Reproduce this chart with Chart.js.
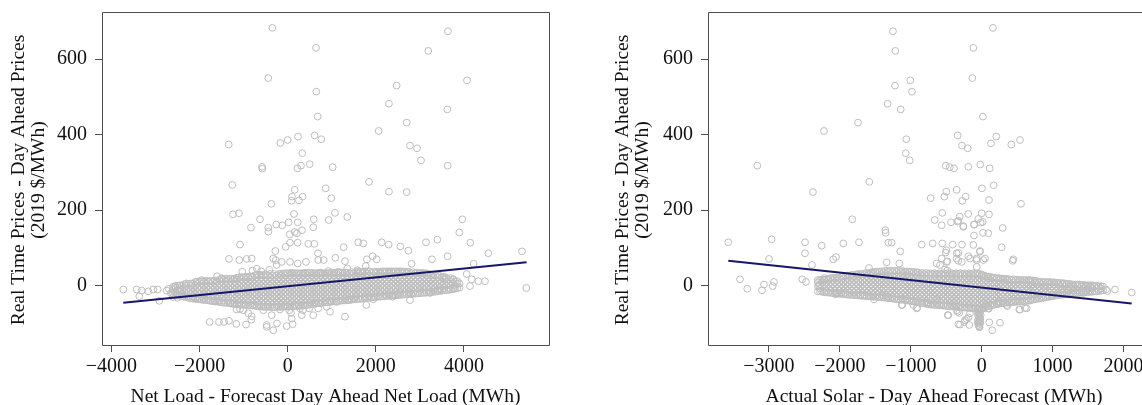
<!DOCTYPE html>
<html><head><meta charset="utf-8">
<script src="https://cdn.jsdelivr.net/npm/chart.js@4"></script>
<style>
html,body{margin:0;padding:0;background:#fff;overflow:hidden;width:1142px;height:405px;position:relative;}
#w1{position:absolute;left:0;top:0;width:560px;height:405px;}
#w2{position:absolute;left:560px;top:0;width:611px;height:405px;}
</style></head><body>
<div id="w1"><canvas id="c1"></canvas></div>
<div id="w2"><canvas id="c2"></canvas></div>
<script>
// ---------- DATA ----------
const yTicks = [0, 200, 400, 600];
const leftXTicks = [-4000, -2000, 0, 2000, 4000];
const rightXTicks = [-3000, -2000, -1000, 0, 1000, 2000];

const leftTitleX = "Net Load - Forecast Day Ahead Net Load (MWh)";
const rightTitleX = "Actual Solar - Day Ahead Forecast (MWh)";
const titleY = ["Real Time Prices - Day Ahead Prices", "(2019 $/MWh)"];

// Left panel: scattered points [x = net load error MWh, y = price spread $/MWh]
const leftScatter = [
[-349,683],[3637,674],[642,630],[3190,622],[-440,550],[4068,544],[649,514],[2473,530],[2298,482],[3622,467],
[681,448],[2700,432],[2064,410],[-1339,374],[-167,378],[0,386],[234,395],[612,398],[763,388],[2775,371],
[2934,364],[332,351],[3025,332],[-583,315],[-576,310],[219,311],[302,318],[499,322],[1021,314],[3630,318],
[-1257,267],[1845,275],[2298,249],[2700,248],[159,254],[98,236],[91,225],[256,226],[340,236],[862,258],
[990,232],[-372,217],[-1241,189],[-1105,192],[-628,176],[143,190],[590,176],[930,174],[1073,193],[1352,182],
[3962,176],[-833,154],[-440,154],[-259,162],[-123,160],[23,168],[227,168],[581,155],[324,147],
[-440,143],[159,142],[45,136],[211,139],[3894,141],[-1082,109],[-281,92],[52,114],[227,114],[468,111],
[604,111],[688,86],[-45,103],[1271,102],[1602,115],[1716,112],[2133,115],[2292,109],[2555,104],[2737,93],
[3138,115],[3395,122],[4144,114],[4552,86],[5316,91],[3630,78],[3274,70],[4220,58],[-1332,71],[-1098,68],
[-930,71],[-817,72],[-327,72],[-272,68],[-136,63],[52,63],[227,59],[415,63],[694,68],[817,68],
[1080,74],[1300,65],[1799,70],[1929,78],[2019,70],[2813,58],[-250,55],[-417,42],[-1030,37],[-1218,17],[-1951,15],
[91,34],[393,34],[733,35],[921,39],[1148,37],[1352,46],[1579,41],[1770,52],
[-1600,25],[-1500,20],[-800,40],[-700,45],[-600,38],
[-3730,-10],[-3426,-10],[-3313,-13],[-3162,-15],[-3050,-10],[-2950,-10],[-2746,-13],[-2444,-10],[-3367,-28],[-2913,-40],
[-2700,-8],[-2650,-20],[-2600,-30],[-2550,-2],[-2500,-32],
[5414,-6],[4477,12],[4325,12],[4175,17],[4061,31],[3758,17],[3569,19],[3758,-7],[4137,-1],[3456,-10],[3229,-19],
[-1770,-96],[-1559,-96],[-1445,-96],[-1332,-93],[-1166,-101],[-946,-103],[-826,-90],[-817,-81],
[-476,-104],[-476,-109],[-327,-118],[-243,-100],[-23,-107],[113,-102],[91,-87],[318,-78],[75,-72],[347,-65],
[581,-78],[960,-69],[1300,-82],[1784,-51],[1942,-36],[2382,-29],[2775,-38],
[-1082,-62],[-1007,-65],[-894,-73],[-1157,-63],[-553,-65],[-363,-78],[-175,-63],[36,-65],[279,-60],[490,-60],
[694,-60],[885,-56],[1112,-43],[1375,-38]
];
// Left panel: dense band near zero, column by column [x, [y values]]
const leftBand = [
[-2600,[-22,-11,-3]],[-2550,[-24,-17,-6,-1]],[-2500,[-26,-22,-11,0]],[-2450,[-27,-17,-6,1]],
[-2400,[-28,-22,-11,0]],[-2350,[-29,-17,-6,4]],[-2300,[-30,-22,-11,0,6]],[-2250,[-32,-28,-17,-6,5]],
[-2200,[-33,-22,-11,0,6]],[-2150,[-34,-28,-17,-6,5]],[-2100,[-35,-33,-22,-11,0,10]],[-2050,[-35,-28,-17,-6,5,11]],
[-2000,[-36,-33,-22,-11,0,11]],[-1950,[-37,-28,-17,-6,5,12]],[-1900,[-38,-33,-22,-11,0,11]],[-1850,[-38,-28,-17,-6,5,13]],
[-1800,[-39,-33,-22,-11,0,11]],[-1750,[-40,-28,-17,-6,5,13]],[-1700,[-41,-33,-22,-11,0,11]],[-1650,[-42,-39,-28,-17,-6,5,14]],
[-1600,[-42,-33,-22,-11,0,11]],[-1550,[-43,-39,-28,-17,-6,5,16]],[-1500,[-44,-33,-22,-11,0,11,18]],[-1450,[-45,-39,-28,-17,-6,5,16]],
[-1400,[-45,-33,-22,-11,0,11,19]],[-1350,[-46,-39,-28,-17,-6,5,16]],[-1300,[-47,-44,-33,-22,-11,0,11,19]],[-1250,[-48,-39,-28,-17,-6,5,16]],
[-1200,[-48,-44,-33,-22,-11,0,11,19]],[-1150,[-49,-39,-28,-17,-6,5,16,21]],[-1100,[-50,-44,-33,-22,-11,0,11,22]],[-1050,[-50,-39,-28,-17,-6,5,16,23]],
[-1000,[-50,-44,-33,-22,-11,0,11,22]],[-950,[-51,-39,-28,-17,-6,5,16,24]],[-900,[-51,-44,-33,-22,-11,0,11,22]],[-850,[-52,-39,-28,-17,-6,5,16,25]],
[-800,[-52,-44,-33,-22,-11,0,11,22]],[-750,[-53,-50,-39,-28,-17,-6,5,16,27]],[-700,[-54,-44,-33,-22,-11,0,11,22,29]],[-650,[-55,-50,-39,-28,-17,-6,5,16,27]],
[-600,[-55,-44,-33,-22,-11,0,11,22,29]],[-550,[-56,-50,-39,-28,-17,-6,5,16,27]],[-500,[-56,-44,-33,-22,-11,0,11,22,30]],[-450,[-56,-50,-39,-28,-17,-6,5,16,27]],
[-400,[-56,-44,-33,-22,-11,0,11,22,31]],[-350,[-57,-50,-39,-28,-17,-6,5,16,27]],[-300,[-57,-44,-33,-22,-11,0,11,22,31]],[-250,[-56,-50,-39,-28,-17,-6,5,16,27]],
[-200,[-56,-44,-33,-22,-11,0,11,22,31]],[-150,[-56,-50,-39,-28,-17,-6,5,16,27,32]],[-100,[-56,-44,-33,-22,-11,0,11,22,32]],[-50,[-55,-50,-39,-28,-17,-6,5,16,27,33]],
[0,[-55,-44,-33,-22,-11,0,11,22,33]],[50,[-55,-50,-39,-28,-17,-6,5,16,27,33]],[100,[-55,-44,-33,-22,-11,0,11,22,33]],[150,[-54,-50,-39,-28,-17,-6,5,16,27,33]],
[200,[-54,-44,-33,-22,-11,0,11,22,33]],[250,[-53,-50,-39,-28,-17,-6,5,16,27,33]],[300,[-53,-44,-33,-22,-11,0,11,22,33]],[350,[-52,-39,-28,-17,-6,5,16,27,33]],
[400,[-52,-44,-33,-22,-11,0,11,22,33]],[450,[-51,-39,-28,-17,-6,5,16,27,34]],[500,[-50,-44,-33,-22,-11,0,11,22,34]],[550,[-49,-39,-28,-17,-6,5,16,27,34]],
[600,[-48,-44,-33,-22,-11,0,11,22,33]],[650,[-47,-39,-28,-17,-6,5,16,27,33]],[700,[-47,-33,-22,-11,0,11,22,33]],[750,[-46,-39,-28,-17,-6,5,16,27,33]],
[800,[-45,-33,-22,-11,0,11,22,33]],[850,[-44,-39,-28,-17,-6,5,16,27,33]],[900,[-44,-33,-22,-11,0,11,22,33]],[950,[-43,-39,-28,-17,-6,5,16,27,34]],
[1000,[-42,-33,-22,-11,0,11,22,34]],[1050,[-41,-28,-17,-6,5,16,27,34]],[1100,[-41,-33,-22,-11,0,11,22,34]],[1150,[-40,-28,-17,-6,5,16,27,35]],
[1200,[-40,-33,-22,-11,0,11,22,35]],[1250,[-39,-28,-17,-6,5,16,27,35]],[1300,[-39,-33,-22,-11,0,11,22,35]],[1350,[-38,-28,-17,-6,5,16,27,35]],
[1400,[-38,-33,-22,-11,0,11,22,33]],[1450,[-37,-28,-17,-6,5,16,27,36]],[1500,[-36,-33,-22,-11,0,11,22,33]],[1550,[-36,-28,-17,-6,5,16,27,36]],
[1600,[-35,-22,-11,0,11,22,33,37]],[1650,[-35,-28,-17,-6,5,16,27,37]],[1700,[-34,-22,-11,0,11,22,33,37]],[1750,[-33,-28,-17,-6,5,16,27,38]],
[1800,[-32,-22,-11,0,11,22,33,38]],[1850,[-32,-28,-17,-6,5,16,27,38]],[1900,[-31,-22,-11,0,11,22,33]],[1950,[-30,-17,-6,5,16,27,37]],
[2000,[-30,-22,-11,0,11,22,33,37]],[2050,[-29,-17,-6,5,16,27,37]],[2100,[-29,-22,-11,0,11,22,33,37]],[2150,[-28,-17,-6,5,16,27,38]],
[2200,[-28,-22,-11,0,11,22,33,38]],[2250,[-27,-17,-6,5,16,27,38]],[2300,[-27,-22,-11,0,11,22,33,38]],[2350,[-26,-17,-6,5,16,27,38]],
[2400,[-26,-22,-11,0,11,22,33,38]],[2450,[-25,-17,-6,5,16,27,38]],[2500,[-25,-22,-11,0,11,22,33,38]],[2550,[-24,-17,-6,5,16,27,38]],
[2600,[-24,-11,0,11,22,33,38]],[2650,[-23,-17,-6,5,16,27,37]],[2700,[-23,-11,0,11,22,33,37]],[2750,[-22,-17,-6,5,16,27,37]],
[2800,[-22,-11,0,11,22,33]],[2850,[-21,-17,-6,5,16,27,36]],[2900,[-21,-11,0,11,22,33]],[2950,[-20,-6,5,16,27,35]],
[3000,[-20,-11,0,11,22,33]],[3050,[-19,-6,5,16,27,34]],[3100,[-19,-11,0,11,22,33]],[3150,[-18,-6,5,16,27,33]],
[3200,[-18,-11,0,11,22,31]],[3250,[-17,-6,5,16,27]],[3300,[-16,-11,0,11,22,28]],[3350,[-16,-6,5,16,27]],
[3400,[-15,-11,0,11,22,28]],[3450,[-14,-6,5,16,26]],[3500,[-13,0,11,22]],[3550,[-12,-6,5,16,24]],
[3600,[-12,0,11,21]],[3650,[-11,-6,5,16]],[3700,[-10,0,11,20]],[3750,[-9,5,16]],
[3800,[-8,0,11]],[3850,[-6,5,12]],[3900,[-5,6]]
];
const leftFitX = [-3730, 5420];
const leftFitY = [-45, 62];

// Right panel: scattered points [x = solar forecast error MWh, y = price spread $/MWh]
const rightScatter = [
[-1251,674],[159,683],[-1218,622],[-118,630],[-1007,544],[-1222,530],[-983,514],[-132,550],[-1326,482],[-1142,467],
[18,448],[-1744,432],[-2224,410],[-1063,388],[-339,398],[-278,371],[-197,364],[131,377],[206,395],[418,374],
[540,386],[-1072,351],[-1015,332],[-3164,318],[-508,318],[-451,314],[-391,311],[-189,315],[-20,321],[113,311],
[-1585,275],[-2379,248],[-499,249],[-527,236],[-353,254],[-226,236],[-273,225],[-719,232],[4,258],[169,266],
[103,227],[554,217],[-1825,176],[-556,193],[-663,174],[-564,160],[-433,168],[-330,172],[-310,183],[-189,190],
[-259,156],[-109,162],[-48,177],[14,169],[0,192],[103,189],[296,153],[-1359,147],
[-3573,115],[-2961,123],[-2999,71],[-3408,17],[-3305,-8],[-3098,-12],[-3070,3],[-2947,-1],[-2929,10],
[-2491,115],[-2491,86],[-2256,106],[-2093,70],[-2054,76],[-1951,112],[-1730,115],[-1354,140],[-1317,114],[-1269,114],
[-1148,91],[-846,109],[-691,112],[-2393,55],[-2530,17],[-2478,10],[-2294,0],[-2219,20],[-2059,-23],[-2045,-20],
[-1589,47],[-1340,62],[-1162,59],
[-344,170],[-259,158],[-104,162],[-14,167],[18,140],[93,139],[-109,133],[282,102],[446,70],[437,66],
[-556,112],[-409,109],[-278,109],[-118,108],[-330,87],[-353,72],[-165,72],[-24,90],[-70,72],[23,68],
[-330,66],[-499,94],[-508,88],[-485,65],[-588,55],[-517,43],[-485,40],
[-635,59],[-564,72],[-494,63],[-353,86],[-282,63],[-189,78],[-70,68],[-24,92],[47,72],[-70,50],
[2115,-18],[1880,-10],[1753,-10],[1771,-14],[1541,-6],[1433,-19],[1376,-13],[1269,-1],[1221,-10],[1104,-1],
[1128,-10],[893,-1],[671,15],[728,-5],
[-1119,-51],[-964,-51],[-908,-58],[-767,-45],[-479,-78],[-330,-102],[-245,-96],[-212,-88],[-175,-104],[-56,-96],
[-34,-109],[149,-118],[107,-97],[258,-98],[99,-61],[234,-47],[361,-54],[530,-63],[611,-59],[-316,-72],[-353,-65],
[-1655,-25],[-1519,-36],[-1387,-25],
[-306,-103],[-235,-91],[-188,-84],[-165,-73],[-338,-69],[-471,-78],
[23,-47],[93,-60],[234,-43],[353,-51],[540,-63],[634,-60],
[-1128,-51],[-917,-60],[-776,-45],[-635,-38],
[-40,-62],[-25,-66],[-50,-70],[-30,-74],[-15,-78],[-45,-80],[-35,-84],[-20,-88],[-50,-90],[-30,-94],
[-40,-98],[-25,-101],[-45,-104],[-35,-107],[-30,-110],[-20,-96],[-55,-76]
];
// Right panel: dense band near zero, column by column [x, [y values]]
const rightBand = [
[-2310,[-15,-2,9,15]],[-2280,[-15,-7,4,15]],[-2250,[-16,-2,9,16]],[-2220,[-17,-7,4,15]],
[-2190,[-18,-13,-2,9,17]],[-2160,[-18,-7,4,15,19]],[-2130,[-19,-13,-2,9,20]],[-2100,[-19,-7,4,15,21]],
[-2070,[-20,-13,-2,9,20]],[-2040,[-20,-18,-7,4,15,22]],[-2010,[-21,-13,-2,9,20]],[-1980,[-22,-18,-7,4,15,24]],
[-1950,[-22,-13,-2,9,20,25]],[-1920,[-23,-18,-7,4,15,26]],[-1890,[-24,-13,-2,9,20,27]],[-1860,[-24,-18,-7,4,15,26]],
[-1830,[-24,-13,-2,9,20,29]],[-1800,[-25,-18,-7,4,15,26]],[-1770,[-25,-13,-2,9,20,30]],[-1740,[-26,-18,-7,4,15,26,31]],
[-1710,[-26,-24,-13,-2,9,20,31]],[-1680,[-27,-18,-7,4,15,26,32]],[-1650,[-27,-24,-13,-2,9,20,31]],[-1620,[-28,-18,-7,4,15,26,34]],
[-1590,[-28,-24,-13,-2,9,20,31]],[-1560,[-28,-18,-7,4,15,26,35]],[-1530,[-29,-24,-13,-2,9,20,31,36]],[-1500,[-29,-18,-7,4,15,26,37]],
[-1470,[-30,-24,-13,-2,9,20,31,37]],[-1440,[-30,-18,-7,4,15,26,37]],[-1410,[-31,-24,-13,-2,9,20,31,38]],[-1380,[-31,-18,-7,4,15,26,37]],
[-1350,[-32,-24,-13,-2,9,20,31,40]],[-1320,[-33,-29,-18,-7,4,15,26,37]],[-1290,[-33,-24,-13,-2,9,20,31,40]],[-1260,[-34,-29,-18,-7,4,15,26,37]],
[-1230,[-35,-24,-13,-2,9,20,31,40]],[-1200,[-36,-29,-18,-7,4,15,26,37]],[-1170,[-36,-24,-13,-2,9,20,31,40]],[-1140,[-37,-29,-18,-7,4,15,26,37]],
[-1110,[-37,-35,-24,-13,-2,9,20,31,39]],[-1080,[-38,-29,-18,-7,4,15,26,37]],[-1050,[-39,-35,-24,-13,-2,9,20,31,38]],[-1020,[-40,-29,-18,-7,4,15,26,37]],
[-990,[-41,-35,-24,-13,-2,9,20,31,37]],[-960,[-42,-40,-29,-18,-7,4,15,26,36]],[-930,[-43,-35,-24,-13,-2,9,20,31,36]],[-900,[-44,-40,-29,-18,-7,4,15,26,35]],
[-870,[-45,-35,-24,-13,-2,9,20,31]],[-840,[-46,-40,-29,-18,-7,4,15,26,34]],[-810,[-47,-35,-24,-13,-2,9,20,31]],[-780,[-48,-40,-29,-18,-7,4,15,26,34]],
[-750,[-49,-46,-35,-24,-13,-2,9,20,31]],[-720,[-50,-40,-29,-18,-7,4,15,26,33]],[-690,[-50,-46,-35,-24,-13,-2,9,20,31]],[-660,[-51,-40,-29,-18,-7,4,15,26,33]],
[-630,[-51,-46,-35,-24,-13,-2,9,20,31]],[-600,[-52,-40,-29,-18,-7,4,15,26,33]],[-570,[-52,-46,-35,-24,-13,-2,9,20,31]],[-540,[-53,-40,-29,-18,-7,4,15,26,33]],
[-510,[-53,-46,-35,-24,-13,-2,9,20,31]],[-480,[-54,-51,-40,-29,-18,-7,4,15,26,33]],[-450,[-54,-46,-35,-24,-13,-2,9,20,31]],[-420,[-55,-51,-40,-29,-18,-7,4,15,26,33]],
[-390,[-55,-46,-35,-24,-13,-2,9,20,31]],[-360,[-56,-51,-40,-29,-18,-7,4,15,26,33]],[-330,[-56,-46,-35,-24,-13,-2,9,20,31]],[-300,[-57,-51,-40,-29,-18,-7,4,15,26,33]],
[-270,[-57,-46,-35,-24,-13,-2,9,20,31]],[-240,[-58,-51,-40,-29,-18,-7,4,15,26,33]],[-210,[-58,-46,-35,-24,-13,-2,9,20,31]],[-180,[-59,-51,-40,-29,-18,-7,4,15,26,33]],
[-150,[-59,-46,-35,-24,-13,-2,9,20,31]],[-120,[-60,-51,-40,-29,-18,-7,4,15,26,33]],[-90,[-60,-57,-46,-35,-24,-13,-2,9,20,31]],[-60,[-61,-51,-40,-29,-18,-7,4,15,26,32]],
[-30,[-62,-57,-46,-35,-24,-13,-2,9,20,31]],[0,[-62,-51,-40,-29,-18,-7,4,15,26,30]],[30,[-60,-57,-46,-35,-24,-13,-2,9,20,27]],[60,[-56,-51,-40,-29,-18,-7,4,15,25]],
[90,[-55,-46,-35,-24,-13,-2,9,20,24]],[120,[-53,-40,-29,-18,-7,4,15,23]],[150,[-51,-46,-35,-24,-13,-2,9,20,22]],[180,[-50,-40,-29,-18,-7,4,15,21]],
[210,[-49,-46,-35,-24,-13,-2,9,20]],[240,[-48,-40,-29,-18,-7,4,15,20]],[270,[-47,-35,-24,-13,-2,9,19]],[300,[-46,-40,-29,-18,-7,4,15,19]],
[330,[-45,-35,-24,-13,-2,9,18]],[360,[-45,-40,-29,-18,-7,4,15,18]],[390,[-44,-35,-24,-13,-2,9,17]],[420,[-44,-40,-29,-18,-7,4,15]],
[450,[-43,-35,-24,-13,-2,9,17]],[480,[-43,-40,-29,-18,-7,4,15]],[510,[-42,-35,-24,-13,-2,9,16]],[540,[-42,-29,-18,-7,4,15]],
[570,[-41,-35,-24,-13,-2,9,15]],[600,[-41,-29,-18,-7,4,15]],[630,[-40,-35,-24,-13,-2,9,15]],[660,[-40,-29,-18,-7,4,14]],
[690,[-39,-35,-24,-13,-2,9,14]],[720,[-37,-29,-18,-7,4,14]],[750,[-36,-24,-13,-2,9,13]],[780,[-35,-29,-18,-7,4,12]],
[810,[-34,-24,-13,-2,9]],[840,[-33,-29,-18,-7,4,11]],[870,[-32,-24,-13,-2,9]],[900,[-31,-18,-7,4,10]],
[930,[-30,-24,-13,-2,9]],[960,[-29,-18,-7,4,10]],[990,[-28,-24,-13,-2,9]],[1020,[-27,-18,-7,4,9]],
[1050,[-26,-13,-2,8]],[1080,[-25,-18,-7,4,8]],[1110,[-24,-13,-2,7]],[1140,[-24,-18,-7,4,7]],
[1170,[-23,-13,-2,6]],[1200,[-23,-18,-7,4]],[1230,[-22,-13,-2,5]],[1260,[-21,-18,-7,4]],
[1290,[-20,-13,-2,3]],[1320,[-20,-7,3]],[1350,[-19,-13,-2,3]],[1380,[-19,-7,3]],
[1410,[-18,-13,-2,2]],[1440,[-18,-7,2]],[1470,[-17,-13,-2,1]],[1500,[-17,-7,1]],
[1530,[-16,-13,-2,1]],[1560,[-16,-7,1]],[1590,[-15,-2]],[1620,[-15,-7,0]],
[1650,[-14,-2]],[1680,[-13,-7,-1]],[1710,[-12,-2]]
];
const rightFitX = [-3573, 2115];
const rightFitY = [66, -47];

// ---------- CHART SETUP ----------
const SERIF = '"Liberation Serif", "Times New Roman", serif';
const FRAME = '#4d4d4d';

function toPoints(scatter, band) {
  const pts = scatter.map(p => ({x: p[0], y: p[1]}));
  band.forEach(col => col[1].forEach(y => pts.push({x: col[0], y: y})));
  return pts;
}
function fmt(v) { return v < 0 ? '\u2212' + Math.abs(v) : String(v); }

function makeChart(id, cfg) {
  const framePlugin = {
    id: 'frameTitles',
    afterDraw(chart) {
      const ctx = chart.ctx, a = chart.chartArea;
      ctx.save();
      ctx.strokeStyle = FRAME; ctx.lineWidth = 1;
      const L = Math.round(a.left) + 0.5, T = Math.round(a.top) + 0.5,
            R = Math.round(a.right) + 0.5, B = Math.round(a.bottom) + 0.5;
      ctx.beginPath();
      ctx.moveTo(L, B); ctx.lineTo(L, T); ctx.lineTo(R, T); ctx.lineTo(R, B); ctx.lineTo(L, B);
      ctx.stroke();
      ctx.fillStyle = '#111';
      ctx.font = '19.5px ' + SERIF;
      ctx.textAlign = 'center';
      ctx.textBaseline = 'alphabetic';
      ctx.fillText(cfg.xTitle, (a.left + a.right) / 2, 402);
      const cy = 180;
      [0, 1].forEach(i => {
        ctx.save();
        ctx.translate(a.left - cfg.yTitleOffsets[i], cy);
        ctx.rotate(-Math.PI / 2);
        ctx.fillText(titleY[i], 0, 0);
        ctx.restore();
      });
      ctx.restore();
    }
  };
  return new Chart(document.getElementById(id), {
    type: 'scatter',
    data: {
      datasets: [
        {
          type: 'scatter',
          data: cfg.fitX.map((x, i) => ({x: x, y: cfg.fitY[i]})),
          showLine: true,
          borderColor: '#16166b',
          borderWidth: 2,
          pointRadius: 0,
          order: 0
        },
        {
          type: 'scatter',
          data: cfg.points,
          pointStyle: 'circle',
          pointRadius: 3.4,
          borderWidth: 1,
          borderColor: '#bdbdbd',
          backgroundColor: 'rgba(0,0,0,0)',
          order: 1
        }
      ]
    },
    options: {
      responsive: true,
      maintainAspectRatio: false,
      animation: false,
      devicePixelRatio: 1,
      events: [],
      layout: {padding: {left: 0, top: 12, right: cfg.padRight, bottom: 0}},
      plugins: {legend: {display: false}, tooltip: {enabled: false}, title: {display: false}},
      scales: {
        x: {
          type: 'linear', min: cfg.xMin, max: cfg.xMax,
          afterBuildTicks: s => { s.ticks = cfg.xTicks.map(v => ({value: v})); },
          afterFit: s => { s.height = 60; s.paddingLeft = 0; s.paddingRight = 0; },
          grid: {display: true, drawOnChartArea: false, drawTicks: true, tickLength: 7, color: FRAME, lineWidth: 1},
          border: {display: false},
          ticks: {autoSkip: false, maxRotation: 0, padding: 3, color: '#111', font: {family: SERIF, size: 20}, callback: v => fmt(v)}
        },
        y: {
          type: 'linear', min: -157, max: 725,
          afterBuildTicks: s => { s.ticks = yTicks.map(v => ({value: v})); },
          afterFit: s => { s.width = cfg.yWidth; s.paddingTop = 0; s.paddingBottom = 0; },
          grid: {display: true, drawOnChartArea: false, drawTicks: true, tickLength: 7, color: FRAME, lineWidth: 1},
          border: {display: false},
          ticks: {autoSkip: false, padding: 8, color: '#111', font: {family: SERIF, size: 20}, callback: v => fmt(v)}
        }
      }
    },
    plugins: [framePlugin]
  });
}

makeChart('c1', {
  points: toPoints(leftScatter, leftBand), fitX: leftFitX, fitY: leftFitY,
  xMin: -4213, xMax: 5929, xTicks: leftXTicks, yWidth: 102, padRight: 11,
  xTitle: leftTitleX, yTitleOffsets: [78, 58]
});
makeChart('c2', {
  points: toPoints(rightScatter, rightBand), fitX: rightFitX, fitY: rightFitY,
  xMin: -3859, xMax: 2514, xTicks: rightXTicks, yWidth: 148, padRight: 11,
  xTitle: rightTitleX, yTitleOffsets: [80, 60]
});
</script>
</body></html>
